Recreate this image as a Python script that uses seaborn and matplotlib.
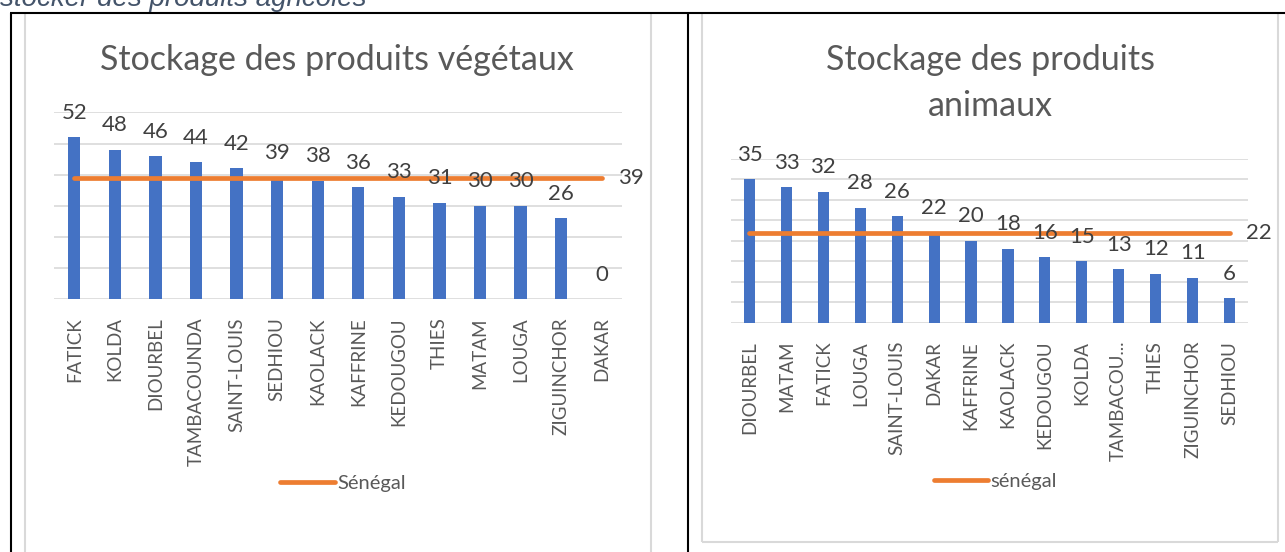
import matplotlib
matplotlib.use("Agg")
import matplotlib.pyplot as plt
import seaborn as sns
import numpy as np
import pandas as pd
from matplotlib.lines import Line2D

# ---------------- data ----------------
veg_regions = ["FATICK", "KOLDA", "DIOURBEL", "TAMBACOUNDA", "SAINT-LOUIS", "SEDHIOU",
               "KAOLACK", "KAFFRINE", "KEDOUGOU", "THIES", "MATAM", "LOUGA",
               "ZIGUINCHOR", "DAKAR"]
veg_values = [52, 48, 46, 44, 42, 39, 38, 36, 33, 31, 30, 30, 26, 0]
veg_senegal = [39, 39, 39, 39, 39, 39, 39, 39, 39, 39, 39, 39, 39, 39]

ani_regions = ["DIOURBEL", "MATAM", "FATICK", "LOUGA", "SAINT-LOUIS", "DAKAR",
               "KAFFRINE", "KAOLACK", "KEDOUGOU", "KOLDA", "TAMBACOU...", "THIES",
               "ZIGUINCHOR", "SEDHIOU"]
ani_values = [35, 33, 32, 28, 26, 22, 20, 18, 16, 15, 13, 12, 11, 6]
ani_senegal = [22, 22, 22, 22, 22, 22, 22, 22, 22, 22, 22, 22, 22, 22]

caption = "stocker des produits agricoles"
veg_title = "Stockage des produits végétaux"
ani_title = ["Stockage des produits", "animaux"]
veg_legend = "Sénégal"
ani_legend = "sénégal"

# ---------------- style ----------------
BLUE = "#4472C4"
ORANGE = "#ED7D31"
GRID = "#D9D9D9"
TXT = "#595959"
LBL = "#404040"
FONT = ["Lato", "DejaVu Sans"]

sns.set_theme(style="white")
plt.rcParams["font.family"] = FONT

W, H = 1285, 552
fig = plt.figure(figsize=(W / 100, H / 100), dpi=100)


def px_axes(x0, x1, ytop, ybot):
    return fig.add_axes([x0 / W, 1 - ybot / H, (x1 - x0) / W, (ybot - ytop) / H])


def fig_line(x0, y0, x1, y1, color, lw):
    fig.add_artist(Line2D([x0 / W, x1 / W], [1 - y0 / H, 1 - y1 / H],
                          transform=fig.transFigure, color=color, lw=lw,
                          solid_capstyle="butt"))


def draw_chart(ax, regions, values, senegal, ymax, step, legend_label, legend_xy):
    df = pd.DataFrame({"region": regions, "value": values})
    sns.barplot(data=df, x="region", y="value", order=regions, color=BLUE,
                saturation=1, width=0.3, linewidth=0, ax=ax)
    n = len(regions)
    sns.lineplot(x=np.arange(n), y=senegal, ax=ax, color=ORANGE, linewidth=3.4,
                 solid_capstyle="round", label=legend_label, legend=False)
    ax.set_xlim(-0.5, n - 0.5)
    ax.set_ylim(0, ymax)
    ax.set_yticks(np.arange(0, ymax + 1, step))
    ax.set_yticklabels([])
    ax.yaxis.grid(True, color=GRID, linewidth=1.2)
    ax.set_axisbelow(True)
    for s in ax.spines.values():
        s.set_visible(False)
    ax.set_xlabel("")
    ax.set_ylabel("")
    ax.tick_params(axis="x", rotation=90, length=0, pad=13, labelsize=13.5,
                   labelcolor=TXT)
    ax.tick_params(axis="y", length=0)
    for i, v in enumerate(values):
        ax.annotate(str(v), (i, v), xytext=(0, 13.3), textcoords="offset points",
                    ha="center", va="baseline", fontsize=16, color=LBL)
    ax.annotate(str(senegal[-1]), (n - 1, senegal[-1]), xytext=(12.0, 0),
                textcoords="offset points", ha="left", va="center",
                fontsize=16, color=LBL)
    leg = ax.legend(loc="center", bbox_to_anchor=(legend_xy[0] / W, 1 - legend_xy[1] / H),
                    bbox_transform=fig.transFigure, frameon=False, fontsize=14.5,
                    handlelength=2.7, handletextpad=0.1, borderpad=0)
    for t in leg.get_texts():
        t.set_color(TXT)


# left chart
ax1 = px_axes(54, 622, 112.4, 299.3)
draw_chart(ax1, veg_regions, veg_values, veg_senegal, 60, 10, veg_legend, (343, 483))

# right chart
ax2 = px_axes(731, 1248, 158.8, 322.7)
draw_chart(ax2, ani_regions, ani_values, ani_senegal, 40, 5, ani_legend, (995, 481))

# titles
fig.text(337 / W, 1 - 60 / H, veg_title, ha="center", va="center", fontsize=24.5,
         color=TXT)
fig.text(990 / W, 1 - 60 / H, ani_title[0], ha="center", va="center", fontsize=24.5,
         color=TXT)
fig.text(990 / W, 1 - 106 / H, ani_title[1], ha="center", va="center", fontsize=24.5,
         color=TXT)

# caption (cut at top edge, as in the source document)
fig.text(0 / W, 1 - 6 / H, caption, ha="left", va="baseline", fontsize=20,
         style="italic", color="#44546A", family=["Liberation Sans", "DejaVu Sans"])

# chart frames (light grey)
fig_line(25, 14, 25, H, GRID, 1.5)
fig_line(651, 14, 651, H, GRID, 1.5)
fig_line(702, 14, 702, 542, GRID, 1.5)
fig_line(1278, 14, 1278, 542, GRID, 1.5)
fig_line(702, 542, 1278, 542, GRID, 1.5)

# table borders (black)
fig_line(10, 13, W, 13, "black", 1.5)
fig_line(11, 13, 11, H, "black", 1.5)
fig_line(688, 13, 688, H, "black", 1.5)

fig.savefig("out.png", dpi=100)
